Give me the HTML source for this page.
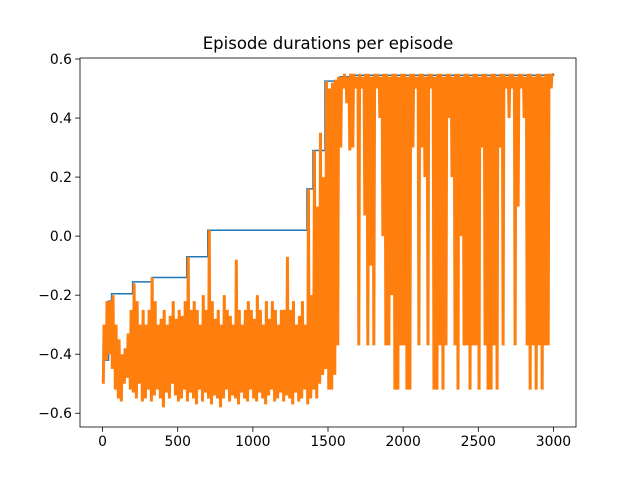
<!DOCTYPE html>
<html><head><meta charset="utf-8"><style>
body{margin:0;background:#fff}
svg{display:block;font-family:"DejaVu Sans","Liberation Sans",sans-serif}
</style></head><body>
<svg id="chart" width="640" height="480" viewBox="0 0 640 480">
<rect x="0" y="0" width="640" height="480" fill="#fff"/>
<text x="328" y="49" font-size="16.5" text-anchor="middle" fill="#000">Episode durations per episode</text>
<g id="plot"></g>
<g id="axes"></g>
</svg>
<script>
const stepEpisodes=[0,40,60,200,330,560,700,1360,1400,1480,1580,1650,3000];
const stepValues=[-0.42,-0.22,-0.195,-0.155,-0.14,-0.07,0.02,0.16,0.29,0.525,0.54,0.545,0.55];
const binSize=20;
const binLow=[
-0.5,-0.42,-0.4,-0.45,-0.52,-0.55,-0.56,-0.5,-0.48,-0.52,
-0.53,-0.55,-0.5,-0.56,-0.55,-0.52,-0.56,-0.54,-0.52,-0.55,
-0.58,-0.53,-0.55,-0.5,-0.54,-0.56,-0.55,-0.52,-0.56,-0.53,
-0.55,-0.57,-0.52,-0.56,-0.53,-0.55,-0.57,-0.54,-0.55,-0.58,
-0.55,-0.52,-0.56,-0.54,-0.55,-0.57,-0.53,-0.55,-0.56,-0.52,
-0.55,-0.56,-0.53,-0.55,-0.57,-0.54,-0.52,-0.56,-0.55,-0.53,
-0.56,-0.54,-0.55,-0.57,-0.53,-0.56,-0.55,-0.52,-0.57,-0.55,
-0.52,-0.55,-0.5,-0.47,-0.45,
-0.52,-0.52,-0.47,-0.37,0.3,0.5,0.45,0.29,0.3,0.5,
-0.37,0.5,0.07,-0.37,-0.1,-0.37,0.5,0.4,0.0,-0.37,
-0.37,-0.2,-0.52,-0.52,-0.37,-0.37,-0.52,-0.52,0.3,0.5,
-0.37,0.3,0.2,-0.37,0.5,-0.52,-0.52,-0.37,-0.52,-0.37,
0.4,0.2,-0.37,-0.52,0.0,-0.37,-0.37,-0.52,-0.37,-0.37,
-0.52,0.3,-0.37,-0.52,-0.52,-0.37,-0.52,0.3,-0.37,0.5,
0.4,0.5,-0.37,0.1,0.5,0.4,-0.37,-0.52,-0.37,-0.52,
-0.37,-0.52,-0.37,-0.37,0.5];
const binHigh=[
-0.3,-0.22,-0.22,-0.2,-0.3,-0.35,-0.4,-0.38,-0.33,-0.25,
-0.16,-0.22,-0.3,-0.25,-0.3,-0.25,-0.14,-0.22,-0.3,-0.28,
-0.25,-0.3,-0.27,-0.22,-0.28,-0.25,-0.27,-0.22,-0.07,-0.25,
-0.22,-0.25,-0.3,-0.2,-0.25,0.02,-0.22,-0.28,-0.25,-0.3,
-0.2,-0.25,-0.27,-0.3,-0.08,-0.25,-0.3,-0.25,-0.22,-0.25,
-0.28,-0.2,-0.25,-0.3,-0.22,-0.28,-0.22,-0.25,-0.3,-0.25,
-0.25,-0.07,-0.25,-0.22,-0.3,-0.27,-0.22,-0.3,0.16,-0.2,
0.29,0.1,0.35,0.2,0.525,
0.5,0.52,0.53,0.54,0.54,0.55,0.54,0.55,0.55,0.54,
0.55,0.54,0.55,0.55,0.54,0.55,0.55,0.54,0.55,0.55,
0.54,0.55,0.55,0.54,0.55,0.55,0.54,0.55,0.55,0.54,
0.55,0.55,0.54,0.55,0.55,0.54,0.55,0.55,0.54,0.55,
0.55,0.54,0.55,0.55,0.54,0.55,0.55,0.54,0.55,0.55,
0.54,0.55,0.55,0.54,0.55,0.55,0.54,0.55,0.55,0.54,
0.55,0.55,0.54,0.55,0.55,0.54,0.55,0.55,0.54,0.55,
0.55,0.54,0.55,0.55,0.55];
const xTicks=[0,500,1000,1500,2000,2500,3000];
const yTicks=[-0.6,-0.4,-0.2,0.0,0.2,0.4,0.6];
const yTickLabels=["\u22120.6","\u22120.4","\u22120.2","0.0","0.2","0.4","0.6"];

const L=80,R=576,T=58,B=427;
const xMin=-150,xMax=3150,yMin=-0.6466,yMax=0.6034;
const sx=v=>L+(v-xMin)/(xMax-xMin)*(R-L);
const sy=v=>B-(v-yMin)/(yMax-yMin)*(B-T);
const NS="http://www.w3.org/2000/svg";
const plot=document.getElementById('plot');
const axes=document.getElementById('axes');
function mk(tag,attrs,parent){const e=document.createElementNS(NS,tag);for(const k in attrs)e.setAttribute(k,attrs[k]);parent.appendChild(e);return e;}

let d='';
for(let i=0;i<stepEpisodes.length;i++){
  const x=sx(stepEpisodes[i]).toFixed(2),y=sy(stepValues[i]).toFixed(2);
  if(i===0)d+='M'+x+','+y;else d+='H'+x+'V'+y;
}
const blue=mk('path',{d:d,fill:'none',stroke:'#1f77b4','stroke-width':1.5},plot);



let d2='';
binLow.forEach((lo,i)=>{
  const e=i*binSize;
  const q=binSize/4;
  d2+=(i?'L':'M')+sx(e).toFixed(2)+','+sy(lo).toFixed(2);
  d2+='L'+sx(e+q).toFixed(2)+','+sy(binHigh[i]).toFixed(2);
  d2+='L'+sx(e+2*q).toFixed(2)+','+sy(lo).toFixed(2);
  d2+='L'+sx(e+3*q).toFixed(2)+','+sy(binHigh[i]).toFixed(2);
});
d2+='L'+sx(3000).toFixed(2)+','+sy(0.55).toFixed(2);
const orange=mk('path',{d:d2,fill:'none',stroke:'#ff7f0e','stroke-width':1.5},plot);



const frame=mk('rect',{x:L,y:T,width:R-L,height:B-T,fill:'none',stroke:'#000','stroke-width':0.8},axes);



xTicks.forEach(t=>{
  const x=sx(t);
  const tk=mk('line',{x1:x,x2:x,y1:B,y2:B+4.9,stroke:'#000','stroke-width':0.8},axes);
  
  
  const lb=mk('text',{x:x,y:B+19,'font-size':13.9,'text-anchor':'middle',fill:'#000'},axes);
  lb.textContent=String(t);
  
  
});
yTicks.forEach((t,i)=>{
  const y=sy(t);
  const tk=mk('line',{x1:L-4.9,x2:L,y1:y,y2:y,stroke:'#000','stroke-width':0.8},axes);
  
  
  const lb=mk('text',{x:L-8,y:y+5,'font-size':13.9,'text-anchor':'end',fill:'#000'},axes);
  lb.textContent=yTickLabels[i];
  
  
});
</script>
</body></html>
